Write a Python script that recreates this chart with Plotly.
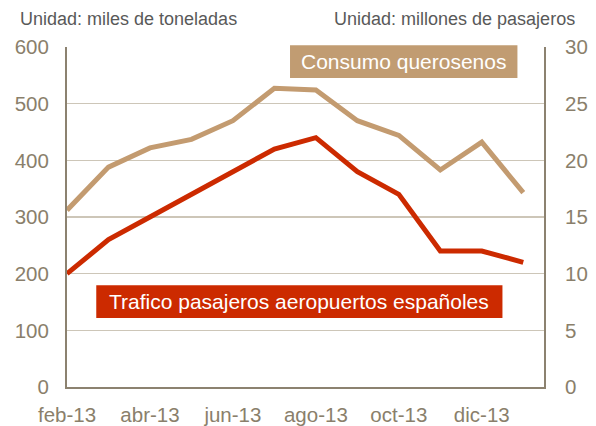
import plotly.graph_objects as go

months = ["feb-13", "mar-13", "abr-13", "may-13", "jun-13", "jul-13",
          "ago-13", "sep-13", "oct-13", "nov-13", "dic-13", "ene-14"]
tick_labels = ["feb-13", "abr-13", "jun-13", "ago-13", "oct-13", "dic-13"]
kerosene = [312, 388, 422, 437, 470, 527, 524, 470, 444, 383, 432, 343]   # miles de toneladas
passengers = [10, 13, 15, 17, 19, 21, 22, 19, 17, 12, 12, 11]           # millones de pasajeros

KER_COLOR = "#c39b70"
RED_COLOR = "#cc2a00"
AXIS_COLOR = "#8c8270"
GRID_COLOR = "#cdc6b8"
TICK_COLOR = "#8a7f6b"
FONT = "Liberation Sans, Arial, sans-serif"

W, H = 596, 426
L, R, T, B = 66.7, 544.3, 46.7, 386.7

def fx(px):
    return (px - L) / (R - L)

def fy(py):
    return (B - py) / (B - T)

xidx = list(range(len(months)))
tickpos = [months.index(m) for m in tick_labels]

fig = go.Figure()
fig.add_trace(go.Scatter(x=xidx, y=kerosene, mode="lines",
                         line=dict(color=KER_COLOR, width=5), yaxis="y",
                         name="Consumo querosenos", hoverinfo="skip"))
fig.add_trace(go.Scatter(x=xidx, y=passengers, mode="lines",
                         line=dict(color=RED_COLOR, width=5), yaxis="y2",
                         name="Trafico pasajeros aeropuertos españoles", hoverinfo="skip"))

fig.update_layout(
    width=W, height=H,
    margin=dict(l=L, r=W - R, t=T, b=H - B, pad=0, autoexpand=False),
    paper_bgcolor="white", plot_bgcolor="white",
    showlegend=False,
    font=dict(family=FONT),
    xaxis=dict(range=[0, 11.5], tickvals=tickpos, ticktext=tick_labels,
               showgrid=False, zeroline=False, showline=True, automargin=False,
               linecolor=AXIS_COLOR, linewidth=2, ticks="",
               tickfont=dict(size=20.5, color=TICK_COLOR),
               ticklabelstandoff=8),
    yaxis=dict(range=[0, 600], dtick=100, showgrid=True, gridcolor=GRID_COLOR,
               gridwidth=1.5, zeroline=False, showline=True, automargin=False,
               linecolor=AXIS_COLOR, linewidth=2, ticks="",
               tickfont=dict(size=20.5, color=TICK_COLOR),
               ticklabelstandoff=12),
    yaxis2=dict(range=[0, 30], dtick=5, overlaying="y", side="right",
                showgrid=False, zeroline=False, showline=True, automargin=False,
                linecolor=AXIS_COLOR, linewidth=2, ticks="",
                tickfont=dict(size=20.5, color=TICK_COLOR),
                ticklabelstandoff=15),
)

# label boxes
fig.add_shape(type="rect", xref="paper", yref="paper",
              x0=fx(290), x1=fx(517.7), y0=fy(77.7), y1=fy(45),
              fillcolor="#c19c72", line=dict(width=0), layer="above")
fig.add_annotation(xref="paper", yref="paper", x=fx(404), y=fy(61.5),
                   text="Consumo querosenos", showarrow=False,
                   font=dict(size=21, color="white"), xanchor="center", yanchor="middle")
fig.add_shape(type="rect", xref="paper", yref="paper",
              x0=fx(96), x1=fx(502.7), y0=fy(317.7), y1=fy(285),
              fillcolor=RED_COLOR, line=dict(width=0), layer="above")
fig.add_annotation(xref="paper", yref="paper", x=fx(299.3), y=fy(301.5),
                   text="Trafico pasajeros aeropuertos españoles", showarrow=False,
                   font=dict(size=21, color="white"), xanchor="center", yanchor="middle")

# unit titles
fig.add_annotation(xref="paper", yref="paper", x=fx(18), y=fy(19),
                   text="Unidad: miles de toneladas", showarrow=False,
                   font=dict(size=18, color="#595959"), xanchor="left", yanchor="middle")
fig.add_annotation(xref="paper", yref="paper", x=fx(577), y=fy(19),
                   text="Unidad: millones de pasajeros", showarrow=False,
                   font=dict(size=18, color="#595959"), xanchor="right", yanchor="middle")

fig.write_html("out.html", config={"displayModeBar": False, "staticPlot": True})

# remove the default page margin so the figure fills the window exactly
with open("out.html", "r", encoding="utf-8") as f:
    html = f.read()
html = html.replace("<head>", "<head><style>html,body{margin:0;padding:0;overflow:hidden;}</style>", 1)
with open("out.html", "w", encoding="utf-8") as f:
    f.write(html)
